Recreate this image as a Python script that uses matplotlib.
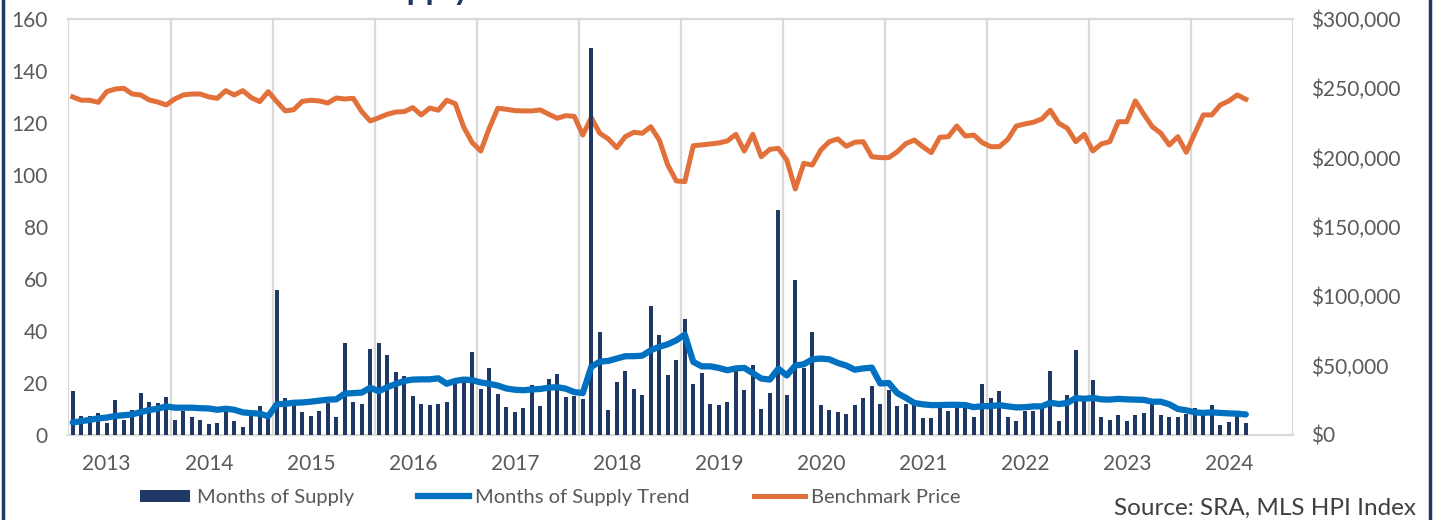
import matplotlib.pyplot as plt
import numpy as np
from matplotlib.lines import Line2D
from matplotlib.patches import Patch
from matplotlib.ticker import FuncFormatter

plt.rcParams['font.family'] = ['Lato', 'DejaVu Sans']

# monthly data, first month is Sept 2012
start_year, start_month = 2012, 9
n_slots = 144

supply = [17, 7.3, 7.4, 8.5, 4.8, 13.4, 5.7, 9.6, 16.3, 12.8, 12.4, 14.5,
          5.6, 9.1, 6.9, 5.6, 4.3, 4.7, 10.7, 5.5, 3.1, 9.4, 11.0, 6.2,
          55.7, 14.3, 11.4, 8.9, 7.4, 9.1, 12.3, 7.1, 35.3, 12.7, 12.1, 33.0,
          35.5, 30.7, 24.1, 22.8, 15.1, 12.1, 11.6, 12.1, 12.7, 21.7, 21.9, 31.8,
          17.7, 25.9, 15.9, 10.6, 8.9, 10.5, 19.1, 11.1, 21.4, 23.3, 14.7, 15.0,
          13.8, 149, 39.8, 9.7, 20.2, 24.6, 17.5, 15.2, 49.5, 38.4, 23.2, 28.9,
          44.5, 19.7, 23.8, 12.1, 11.4, 12.8, 24.6, 17.4, 26.9, 10.1, 16.0, 86.5,
          15.5, 59.8, 25.9, 39.5, 11.4, 9.6, 8.9, 7.9, 11.5, 14.1, 18.7, 12.1,
          17.3, 11.1, 11.9, 11.4, 6.4, 6.5, 10.5, 9.3, 11.0, 10.3, 7.1, 19.7,
          14.1, 17.0, 7.1, 5.3, 9.1, 9.4, 10.3, 24.5, 5.2, 15.4, 32.5, 13.0,
          21.0, 7.1, 5.8, 7.5, 5.5, 7.8, 8.5, 11.8, 7.5, 7.0, 7.1, 8.2,
          10.3, 7.5, 11.6, 3.8, 5.1, 7.3, 4.8]

trend = [4.8, 5.3, 5.8, 6.4, 6.7, 7.3, 7.6, 7.9, 8.8, 9.6, 10.1, 11.0,
         10.5, 10.5, 10.5, 10.3, 10.2, 9.7, 10.1, 9.7, 8.7, 8.4, 8.2, 7.2,
         11.8, 12.0, 12.4, 12.5, 12.8, 13.2, 13.6, 13.7, 15.9, 16.1, 16.3, 18.2,
         16.8, 18.4, 19.6, 20.8, 21.3, 21.4, 21.4, 21.8, 19.7, 20.8, 21.3, 21.1,
         20.2, 19.7, 19.0, 17.9, 17.4, 17.2, 17.5, 17.7, 18.2, 18.4, 17.8, 16.5,
         16.1, 26.2, 28.2, 28.5, 29.4, 30.3, 30.3, 30.5, 32.6, 33.9, 34.9, 36.4,
         38.6, 28.1, 26.4, 26.4, 25.8, 24.9, 25.6, 25.8, 23.8, 21.7, 21.3, 25.5,
         22.9, 26.7, 27.2, 29.1, 29.4, 29.1, 27.7, 26.7, 25.1, 25.6, 25.9, 19.8,
         20.0, 16.1, 14.3, 12.3, 11.8, 11.5, 11.5, 11.6, 11.6, 11.5, 10.7, 11.1,
         11.1, 11.5, 11.0, 10.6, 10.7, 11.0, 11.0, 12.4, 11.9, 12.3, 14.2, 13.9,
         14.3, 13.7, 13.6, 13.9, 13.7, 13.6, 13.5, 12.8, 12.8, 11.8, 10.0, 9.5,
         8.7, 8.5, 8.7, 8.5, 8.3, 8.2, 7.9]

price = [243800, 241400, 241400, 239900, 247600, 249500, 250000, 245900, 245200, 241600, 240100, 238000,
         242300, 245200, 245900, 245900, 243800, 242800, 248300, 245200, 248300, 243300, 240400, 247600,
         240400, 233700, 234600, 240600, 241400, 240900, 239400, 243000, 242300, 242800, 233200, 226400,
         228800, 231300, 232900, 233200, 236100, 230800, 235800, 234200, 241400, 238900, 221900, 210800,
         204800, 221200, 235600, 234900, 233900, 233700, 233700, 234400, 231300, 228400, 230300, 229800,
         216300, 228800, 217600, 213500, 207200, 215100, 218300, 217600, 222300, 212700, 194700, 183200,
         182700, 208600, 209200, 209900, 210600, 212000, 216800, 204800, 216800, 200700, 206000, 206700,
         198300, 177400, 195900, 194700, 205500, 211500, 213500, 208200, 211100, 211500, 200700, 200000,
         200000, 204300, 210100, 212700, 207900, 203600, 214700, 215100, 222800, 215600, 216300, 210800,
         207900, 207900, 213200, 222800, 224300, 225500, 227900, 234200, 224800, 221200, 211500, 216800,
         204800, 209900, 211500, 225900, 225900, 240900, 231300, 222300, 217600, 209100, 215100, 203900,
         217600, 230800, 230800, 238000, 240900, 245200, 242100]

years = list(range(2013, 2025))

navy = '#203864'
blue = '#0070C0'
orange = '#E2703A'
grey = '#595959'
grid = '#D9D9D9'

x = np.arange(len(supply))
year_pos = [(y - start_year) * 12 + 1 - start_month for y in years]

fig = plt.figure(figsize=(14.33, 5.2), dpi=100)
rect = [0.0478, 0.1635, 0.8542, 0.8000]

# price axis first so it sits underneath the bars
axp = fig.add_axes(rect)
axp.plot(x, price, color=orange, lw=3.6, zorder=3, solid_joinstyle='round')
axp.set_ylim(0, 300000)
axp.set_yticks(np.arange(0, 300001, 50000))
axp.yaxis.set_major_formatter(FuncFormatter(lambda v, p: "${:,.0f}".format(v)))
axp.yaxis.tick_right()
for k in range(0, n_slots + 1, 12):
    axp.axvline(k - 0.5, color=grid, lw=1.6, zorder=1)
axp.tick_params(axis='y', length=0, pad=13, labelsize=15, labelcolor=grey)
axp.tick_params(axis='x', length=0, labelbottom=False)
for s in ['left', 'right']:
    axp.spines[s].set_visible(False)
for s in ['top', 'bottom']:
    axp.spines[s].set_color(grid)
    axp.spines[s].set_linewidth(1.6)

ax = fig.add_axes(rect, sharex=axp)
ax.patch.set_alpha(0)
ax.bar(x, supply, width=0.5, color=navy, zorder=2)
ax.plot(x, trend, color=blue, lw=4.5, zorder=3, solid_joinstyle='round',
        solid_capstyle='round')
ax.set_ylim(0, 160)
ax.set_yticks(np.arange(0, 161, 20))
ax.set_xlim(-0.5, n_slots - 0.5)
ax.set_xticks(year_pos)
ax.set_xticklabels([str(y) for y in years])
ax.tick_params(axis='both', length=0, labelsize=15, labelcolor=grey)
ax.tick_params(axis='y', pad=15)
ax.tick_params(axis='x', pad=14)
for s in ax.spines.values():
    s.set_visible(False)

handles = [Patch(facecolor=navy),
           Line2D([0], [0], color=blue, lw=4.5),
           Line2D([0], [0], color=orange, lw=3.6)]
labels = ['Months of Supply', 'Months of Supply Trend', 'Benchmark Price']
fig.legend(handles, labels, loc='center left', bbox_to_anchor=(0.085, 0.043),
           ncol=3, frameon=False, fontsize=14.5, handlelength=2.5,
           handleheight=0.6, handletextpad=0.33, columnspacing=3.2,
           labelcolor=grey)

fig.text(0.988, 0.022, 'Source: SRA, MLS HPI Index', ha='right', va='center',
         fontsize=17.5, color='#404040')

# title sits above the top edge, only its descenders show
fig.text(0.328, 1.0, 'Months of Supply', ha='right', va='baseline',
         fontsize=24, fontweight='bold', color=navy)

# dark frame on the sides
fig.add_artist(Line2D([0.002, 0.002], [0, 1], transform=fig.transFigure,
                      color=navy, lw=2.5))
fig.add_artist(Line2D([0.998, 0.998], [0, 1], transform=fig.transFigure,
                      color=navy, lw=2.5))

fig.savefig('out.png', dpi=100)
